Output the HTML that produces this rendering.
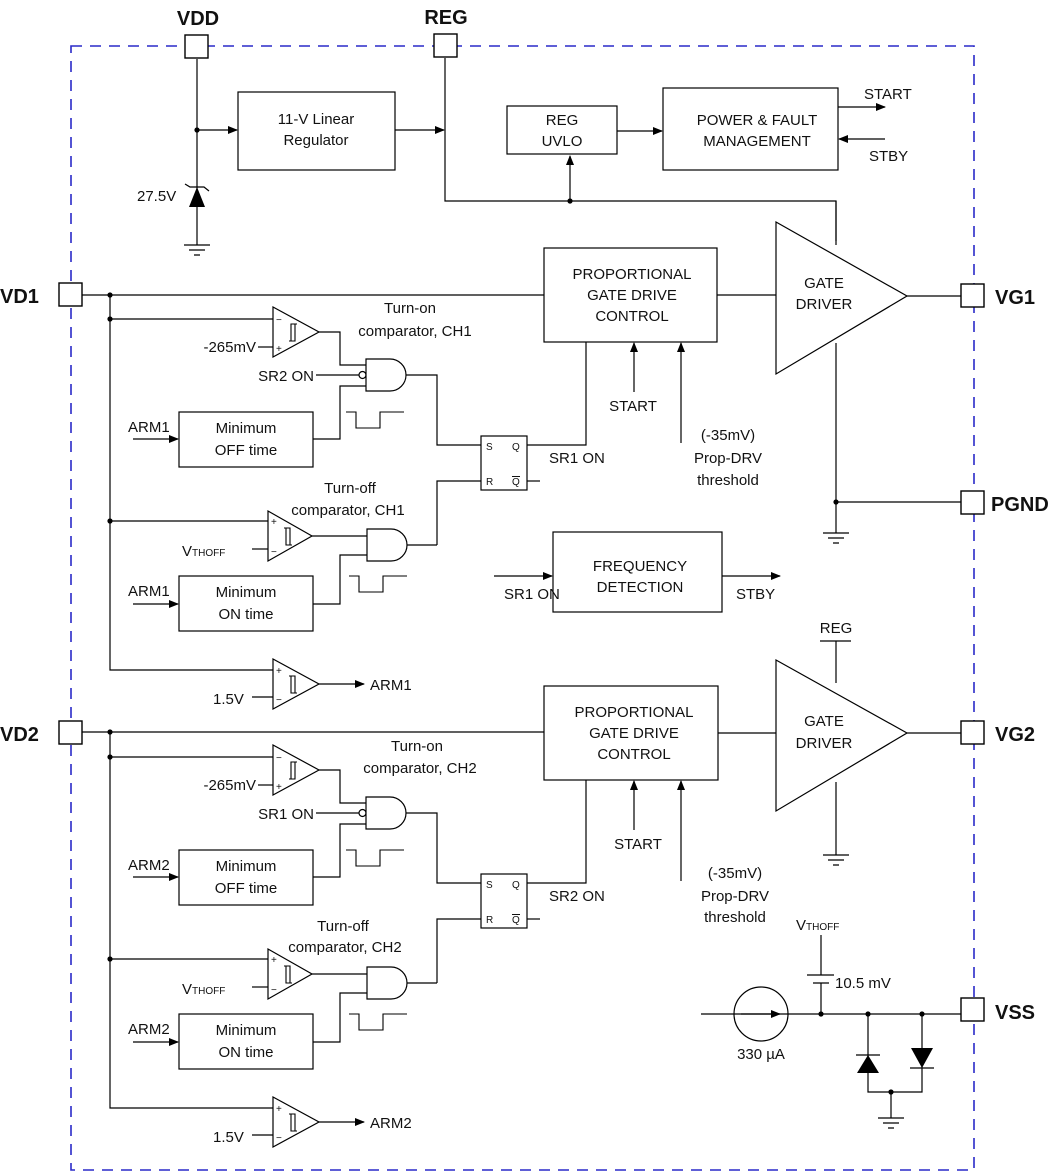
<!DOCTYPE html>
<html><head><meta charset="utf-8"><style>
html,body{margin:0;padding:0;background:#fff}
svg{display:block}
text{font-family:"Liberation Sans",Arial,sans-serif;font-size:15px;fill:#111}
.b{font-weight:bold;font-size:20px}
.s{font-size:10px}
</style></head><body>
<svg width="1061" height="1172" viewBox="0 0 1061 1172" xmlns="http://www.w3.org/2000/svg">
<defs>
<marker id="ar" markerWidth="10" markerHeight="8" refX="9" refY="4" orient="auto" markerUnits="userSpaceOnUse"><path d="M0,0 L10,4 L0,8 Z" fill="#000"/></marker>
<g id="gnd"><path d="M-13,0 H13 M-8,5 H8 M-3,10 H3" stroke="#000" stroke-width="1.2" fill="none"/></g>
<g id="and"><path d="M0,-16 H24 A16,16 0 0 1 24,16 H0 Z" fill="#fff" stroke="#000" stroke-width="1.2"/></g>
<g id="hystA"><path d="M-4,9 H2 L2,-8 M-2,9 L-2,-8 H4" stroke="#000" fill="none" stroke-width="1.1"/></g>
<g id="hystB"><path d="M-4,-8 H2 L2,9 M-2,-8 L-2,9 H4" stroke="#000" fill="none" stroke-width="1.1"/></g>
<g id="pulse"><path d="M0,0 H10 V16 H34 V0 H58" stroke="#000" fill="none" stroke-width="1.1"/></g>
</defs>
<rect width="1061" height="1172" fill="#fff"/>
<rect x="71" y="46" width="903" height="1124" fill="none" stroke="#2a2ac8" stroke-width="1.6" stroke-dasharray="11,8"/>

<g stroke="#000" stroke-width="1.2" fill="none">
<path d="M197,59 V245"/>
<path d="M197,130 H237" marker-end="url(#ar)"/>
<rect x="238" y="92" width="157" height="78"/>
<path d="M395,130 H444" marker-end="url(#ar)"/>
<path d="M445,58 V201 H836 V241"/>
<path d="M570,201 V156" marker-end="url(#ar)"/>
<rect x="507" y="106" width="110" height="48"/>
<path d="M617,131 H662" marker-end="url(#ar)"/>
<rect x="663" y="88" width="175" height="82"/>
<path d="M838,107 H885" marker-end="url(#ar)"/>
<path d="M885,139 H839" marker-end="url(#ar)"/>
<path d="M185,184 L190,187 H204 L209,191"/>
<path d="M82,295 H544"/>
<rect x="544" y="248" width="173" height="94"/>
<path d="M717,295 H776"/>
<path d="M776,222 L907,296 L776,374 Z" fill="#fff"/>
<path d="M836,201 V245"/>
<path d="M907,296 H961"/>
<path d="M836,343 V533"/>
<path d="M836,502 H961"/>
<path d="M634,392 V343" marker-end="url(#ar)"/>
<path d="M681,443 V343" marker-end="url(#ar)"/>
<path d="M527,445 H586 V342"/>
<rect x="553" y="532" width="169" height="80"/>
<path d="M494,576 H552" marker-end="url(#ar)"/>
<path d="M722,576 H780" marker-end="url(#ar)"/>
<path d="M82,732 H544"/>
<rect x="544" y="686" width="174" height="94"/>
<path d="M718,733 H776"/>
<path d="M776,660 L907,733 L776,811 Z" fill="#fff"/>
<path d="M820,641 H851 M836,641 V683"/>
<path d="M836,782 V855"/>
<path d="M907,733 H961"/>
<path d="M634,830 V781" marker-end="url(#ar)"/>
<path d="M681,881 V781" marker-end="url(#ar)"/>
<path d="M527,883 H586 V780"/>
<path d="M110,295 V670 H273"/>
<path d="M110,319 H273 M110,521 H268"/>
<path d="M110,732 V1108 H273"/>
<path d="M110,757 H273 M110,959 H268"/>
<path d="M701,1014 H961"/>
<circle cx="761" cy="1014" r="27"/>
<path d="M741,1014 H780" marker-end="url(#ar)"/>
<path d="M821,935 V975 M807,975 H834 M813,983 H829 M821,983 V1014"/>
<path d="M868,1014 V1092 H922 V1014 M891,1092 V1118"/>
<path d="M856,1055 H880 M910,1068 H934"/>
</g>
<polygon points="189,207 205,207 197,187" fill="#000"/>
<polygon points="857,1073 879,1073 868,1055" fill="#000"/>
<polygon points="911,1048 933,1048 922,1068" fill="#000"/>
<use href="#gnd" x="197" y="245"/>
<use href="#gnd" x="836" y="533"/>
<use href="#gnd" x="836" y="855"/>
<use href="#gnd" x="891" y="1118"/>
<g fill="#000">
<circle cx="197" cy="130" r="2.6"/><circle cx="570" cy="201" r="2.6"/>
<circle cx="836" cy="502" r="2.6"/>
<circle cx="110" cy="295" r="2.6"/><circle cx="110" cy="319" r="2.6"/><circle cx="110" cy="521" r="2.6"/>
<circle cx="110" cy="732" r="2.6"/><circle cx="110" cy="757" r="2.6"/><circle cx="110" cy="959" r="2.6"/>
<circle cx="821" cy="1014" r="2.6"/><circle cx="868" cy="1014" r="2.6"/><circle cx="922" cy="1014" r="2.6"/><circle cx="891" cy="1092" r="2.6"/>
</g>

<g id="logic1">
<g stroke="#000" stroke-width="1.2" fill="none">
<path d="M273,307 L273,357 L319,332 Z" fill="#fff"/>
<path d="M258,347 H273"/>
<path d="M319,332 H340 V365 H366"/>
<path d="M316,375 H359"/>
<circle cx="362.5" cy="375" r="3.5" fill="#fff"/>
<path d="M313,439 H340 V386 H366"/>
<rect x="179" y="412" width="134" height="55"/>
<path d="M133,439 H178" marker-end="url(#ar)"/>
<path d="M406,375 H437 V445 H481"/>
<rect x="481" y="436" width="46" height="54"/>
<path d="M527,481 H540"/>
<path d="M437,545 V481 H481"/>
<path d="M268,511 L268,561 L312,536 Z" fill="#fff"/>
<path d="M252,549 H268"/>
<path d="M312,536 H367"/>
<path d="M313,604 H340 V555 H367"/>
<path d="M406,545 H437"/>
<rect x="179" y="576" width="134" height="55"/>
<path d="M133,604 H178" marker-end="url(#ar)"/>
<path d="M273,659 L273,709 L319,684 Z" fill="#fff"/>
<path d="M252,697 H273"/>
<path d="M319,684 H364" marker-end="url(#ar)"/>
</g>
<use href="#and" x="366" y="375"/>
<use href="#and" x="367" y="545"/>
<use href="#hystA" x="293" y="332"/>
<use href="#hystB" x="288" y="536"/>
<use href="#hystB" x="293" y="684"/>
<use href="#pulse" x="346" y="412"/>
<use href="#pulse" x="349" y="576"/>
<text x="276" y="323" class="s">−</text><text x="276" y="352" class="s">+</text>
<text x="271" y="525" class="s">+</text><text x="271" y="555" class="s">−</text>
<text x="276" y="674" class="s">+</text><text x="276" y="703" class="s">−</text>
<text x="486" y="450" class="s">S</text><text x="512" y="450" class="s">Q</text>
<text x="486" y="485" class="s">R</text><text x="512" y="485" class="s">Q</text>
<rect x="512" y="476" width="8" height="1" fill="#111"/>
<text x="256" y="352" text-anchor="end">-265mV</text>
<text x="246" y="433" text-anchor="middle">Minimum</text>
<text x="246" y="455" text-anchor="middle">OFF time</text>
<text x="246" y="597" text-anchor="middle">Minimum</text>
<text x="246" y="619" text-anchor="middle">ON time</text>
<text x="182" y="556">V<tspan font-size="10">THOFF</tspan></text>
<text x="213" y="704">1.5V</text>
</g>
<g transform="translate(0,438)">
<use href="#logic1"/>
</g>
<text x="128" y="432">ARM1</text><text x="128" y="596">ARM1</text>
<text x="128" y="870">ARM2</text><text x="128" y="1034">ARM2</text>
<text x="314" y="381" text-anchor="end">SR2 ON</text>
<text x="314" y="819" text-anchor="end">SR1 ON</text>
<text x="410" y="313" text-anchor="middle">Turn-on</text>
<text x="415" y="336" text-anchor="middle">comparator, CH1</text>
<text x="417" y="751" text-anchor="middle">Turn-on</text>
<text x="420" y="773" text-anchor="middle">comparator, CH2</text>
<text x="350" y="493" text-anchor="middle">Turn-off</text>
<text x="348" y="515" text-anchor="middle">comparator, CH1</text>
<text x="343" y="931" text-anchor="middle">Turn-off</text>
<text x="345" y="952" text-anchor="middle">comparator, CH2</text>
<text x="370" y="690">ARM1</text>
<text x="370" y="1128">ARM2</text>
<text x="549" y="463">SR1 ON</text>
<text x="549" y="901">SR2 ON</text>

<text x="633" y="411" text-anchor="middle">START</text>
<text x="638" y="849" text-anchor="middle">START</text>
<text x="728" y="440" text-anchor="middle">(-35mV)</text>
<text x="728" y="463" text-anchor="middle">Prop-DRV</text>
<text x="728" y="485" text-anchor="middle">threshold</text>
<text x="735" y="878" text-anchor="middle">(-35mV)</text>
<text x="735" y="901" text-anchor="middle">Prop-DRV</text>
<text x="735" y="922" text-anchor="middle">threshold</text>
<text x="632" y="279" text-anchor="middle">PROPORTIONAL</text>
<text x="632" y="300" text-anchor="middle">GATE DRIVE</text>
<text x="632" y="321" text-anchor="middle">CONTROL</text>
<text x="634" y="717" text-anchor="middle">PROPORTIONAL</text>
<text x="634" y="738" text-anchor="middle">GATE DRIVE</text>
<text x="634" y="759" text-anchor="middle">CONTROL</text>
<text x="824" y="288" text-anchor="middle">GATE</text>
<text x="824" y="309" text-anchor="middle">DRIVER</text>
<text x="824" y="726" text-anchor="middle">GATE</text>
<text x="824" y="748" text-anchor="middle">DRIVER</text>
<text x="640" y="571" text-anchor="middle">FREQUENCY</text>
<text x="640" y="592" text-anchor="middle">DETECTION</text>
<text x="504" y="599">SR1 ON</text>
<text x="736" y="599">STBY</text>
<text x="316" y="124" text-anchor="middle">11-V Linear</text>
<text x="316" y="145" text-anchor="middle">Regulator</text>
<text x="562" y="125" text-anchor="middle">REG</text>
<text x="562" y="146" text-anchor="middle">UVLO</text>
<text x="757" y="125" text-anchor="middle">POWER &amp; FAULT</text>
<text x="757" y="146" text-anchor="middle">MANAGEMENT</text>
<text x="864" y="99">START</text>
<text x="869" y="161">STBY</text>
<text x="137" y="201">27.5V</text>
<text x="836" y="633" text-anchor="middle">REG</text>
<text x="796" y="930">V<tspan font-size="10">THOFF</tspan></text>
<text x="835" y="988">10.5 mV</text>
<text x="761" y="1059" text-anchor="middle">330 µA</text>

<g fill="#fff" stroke="#000" stroke-width="1.4">
<rect x="185" y="35" width="23" height="23"/>
<rect x="434" y="34" width="23" height="23"/>
<rect x="59" y="283" width="23" height="23"/>
<rect x="59" y="721" width="23" height="23"/>
<rect x="961" y="284" width="23" height="23"/>
<rect x="961" y="491" width="23" height="23"/>
<rect x="961" y="721" width="23" height="23"/>
<rect x="961" y="998" width="23" height="23"/>
</g>
<text x="198" y="25" class="b" text-anchor="middle">VDD</text>
<text x="446" y="24" class="b" text-anchor="middle">REG</text>
<text x="0" y="303" class="b">VD1</text>
<text x="0" y="741" class="b">VD2</text>
<text x="995" y="304" class="b">VG1</text>
<text x="991" y="511" class="b">PGND</text>
<text x="995" y="741" class="b">VG2</text>
<text x="995" y="1019" class="b">VSS</text>
</svg>
</body></html>
